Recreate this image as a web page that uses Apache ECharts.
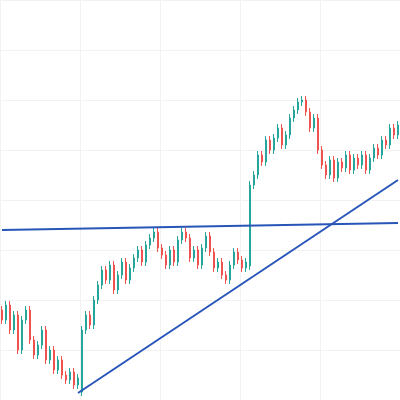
<!DOCTYPE html>
<html>
<head>
  <meta charset="UTF-8">
  <style>
    body { margin: 0; background: #fff; }
    #main { width: 400px; height: 400px; }
  </style>
</head>
<body>
  <div id="main"></div>
  <script src="https://cdn.jsdelivr.net/npm/echarts@6/dist/echarts.min.js"></script>
  <script>
    // values are in screen-level units (axis inverted): smaller = higher price
    const closes = [320,305,330,315,350,320,310,340,355,345,330,360,350,370,360,375,380,372,385,378,
      330,315,325,300,285,270,280,265,290,275,262,280,268,258,250,262,245,238,232,248,
      255,265,250,262,240,232,238,258,250,265,248,236,252,268,262,275,280,265,252,260,
      268,262,185,175,155,162,140,150,138,128,145,135,118,110,102,100,112,128,118,150,
      165,175,160,178,162,168,155,170,158,165,155,170,158,148,155,140,145,128,135,125];
    const firstOpen = 310;
    const bigOpens = { 20: 392, 62: 266 };
    const wick = 4;
    const resistance = [[0, 230], [99, 223]];
    const support = [[19, 393], [99, 180]];

    const cats = closes.map((_, i) => i);
    const candles = closes.map((c, i) => {
      const o = bigOpens[i] !== undefined ? bigOpens[i] : (i === 0 ? firstOpen : closes[i - 1]);
      return [o, c, Math.max(o, c) + wick, Math.min(o, c) - wick];
    });

    const chart = echarts.init(document.getElementById('main'));
    chart.setOption({
      animation: false,
      grid: { left: 0, right: 0, top: 0, bottom: 0 },
      xAxis: {
        type: 'category', data: cats, boundaryGap: true,
        axisLine: { show: false }, axisTick: { show: false }, axisLabel: { show: false },
        splitLine: { show: true, interval: 19, lineStyle: { color: '#f2f2f2' } }
      },
      yAxis: {
        type: 'value', inverse: true, min: 0, max: 400, interval: 50,
        axisLine: { show: false }, axisTick: { show: false }, axisLabel: { show: false },
        splitLine: { lineStyle: { color: '#f2f2f2' } }
      },
      series: [
        {
          // axis is inverted, so a falling value is a rising candle
          type: 'candlestick', data: candles, barWidth: 2,
          itemStyle: { color: '#ef5350', color0: '#26a69a', borderColor: '#ef5350', borderColor0: '#26a69a' }
        },
        { type: 'line', data: resistance, symbol: 'none', lineStyle: { color: '#2855b8', width: 2 } },
        { type: 'line', data: support, symbol: 'none', lineStyle: { color: '#2855b8', width: 2 } }
      ]
    });
  </script>
</body>
</html>
